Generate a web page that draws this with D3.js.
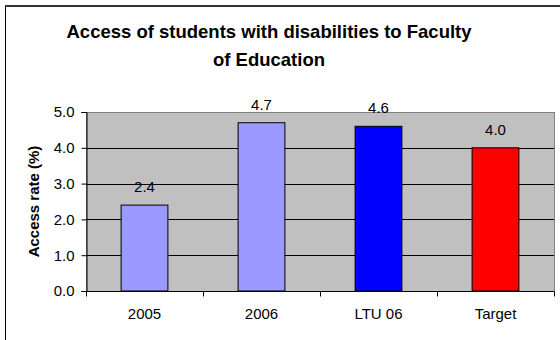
<!DOCTYPE html>
<html><head><meta charset="utf-8">
<script src="https://cdn.jsdelivr.net/npm/d3@7"></script>
<style>html,body{margin:0;padding:0;background:#fff;overflow:hidden}</style>
</head><body>
<svg id="chart" width="560" height="340"></svg>
<script>
const categories = ["2005", "2006", "LTU 06", "Target"];
const values = [2.4, 4.7, 4.6, 4.0];
const barColors = ["#9999ff", "#9999ff", "#0000ff", "#ff0000"];
const yTicks = [0, 1, 2, 3, 4, 5];
const titleLines = ["Access of students with disabilities to Faculty", "of Education"];
const yTitle = "Access rate (%)";

const svg = d3.select("#chart");
const font = "'Liberation Sans', Arial, sans-serif";
const m = {left: 86, right: 554, top: 112, bottom: 291};

// outer frame (cropped chart border)
svg.append("rect").attr("x", 5.5).attr("y", 5.5).attr("width", 700).attr("height", 500)
  .attr("fill", "#fff").attr("stroke", "#000").attr("stroke-width", 1);
svg.append("line").attr("x1", 5).attr("x2", 560).attr("y1", 6).attr("y2", 6)
  .attr("stroke", "#333").attr("stroke-width", 2);

const x = d3.scaleBand().domain(categories).range([m.left, m.right]).paddingInner(0.6).paddingOuter(0.3);
const xb = d3.scaleBand().domain(categories).range([m.left, m.right]);
const y = d3.scaleLinear().domain([0, 5]).range([m.bottom, m.top]);

// plot background
svg.append("rect").attr("x", m.left).attr("y", m.top).attr("width", m.right - m.left).attr("height", m.bottom - m.top)
  .attr("fill", "#c0c0c0").attr("stroke", "#808080").attr("stroke-width", 1)
  .attr("shape-rendering", "crispEdges");

// gridlines
svg.append("g").selectAll("line").data(yTicks.filter(t => t > 0 && t < 5)).join("line")
  .attr("x1", m.left).attr("x2", m.right)
  .attr("y1", d => Math.round(y(d)) + 0.5).attr("y2", d => Math.round(y(d)) + 0.5)
  .attr("stroke", "#000").attr("stroke-width", 1);

// bars
svg.append("g").selectAll("rect").data(values).join("rect")
  .attr("x", (d, i) => x(categories[i]))
  .attr("width", x.bandwidth())
  .attr("y", d => y(d))
  .attr("height", d => y(0) - y(d))
  .attr("fill", (d, i) => barColors[i])
  .attr("stroke", "#000").attr("stroke-width", 1);

// data labels
svg.append("g").selectAll("text").data(values).join("text")
  .attr("x", (d, i) => x(categories[i]) + x.bandwidth() / 2)
  .attr("y", d => y(d) - 13)
  .attr("text-anchor", "middle")
  .attr("font-family", font).attr("font-size", 15).attr("fill", "#000")
  .text(d => d.toFixed(1));

// y axis
const yAxis = d3.axisLeft(y).tickValues(yTicks).tickFormat(d3.format(".1f")).tickSize(5).tickPadding(7);
const gy = svg.append("g").attr("transform", `translate(${m.left + 0.5},0)`).call(yAxis);
gy.selectAll("text").attr("font-family", font).attr("font-size", 15).attr("fill", "#000");
gy.selectAll("line,path").attr("stroke", "#000");

// x axis
const xAxis = d3.axisBottom(xb).tickSize(0).tickPadding(17);
const gx = svg.append("g").attr("transform", `translate(0,${m.bottom + 0.5})`).call(xAxis);
gx.select(".domain").attr("stroke", "#000").attr("d", `M${m.left},0H${m.right}`);
gx.selectAll("text").attr("font-family", font).attr("font-size", 15).attr("fill", "#000");
// category boundary ticks
const bounds = categories.map(c => xb(c)).concat([m.right]);
gx.append("g").selectAll("line").data(bounds).join("line")
  .attr("x1", d => Math.round(d) + 0.5).attr("x2", d => Math.round(d) + 0.5)
  .attr("y1", 0).attr("y2", 5).attr("stroke", "#000");

// y title
svg.append("text")
  .attr("transform", `translate(39,${(m.top + m.bottom) / 2}) rotate(-90)`)
  .attr("text-anchor", "middle")
  .attr("font-family", font).attr("font-size", 15).attr("font-weight", "bold")
  .text(yTitle);

// title
svg.append("g").selectAll("text").data(titleLines).join("text")
  .attr("x", 269).attr("y", (d, i) => 38 + i * 28)
  .attr("text-anchor", "middle")
  .attr("font-family", font).attr("font-size", 18.5).attr("font-weight", "bold")
  .text(d => d);
</script>
</body></html>
